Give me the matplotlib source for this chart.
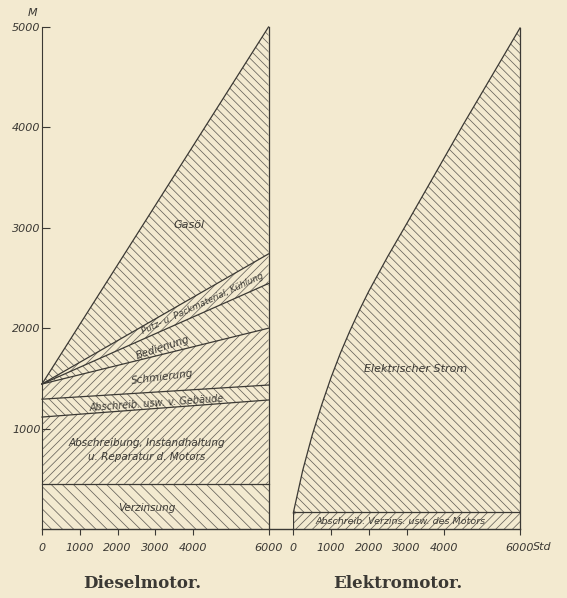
import matplotlib
matplotlib.use("Agg")
import matplotlib.pyplot as plt
from matplotlib.lines import Line2D

# Betriebskosten je Jahr (M) ueber Betriebsstunden (Std)
hours = [0, 6000]

# Dieselmotor: Oberkante jeder Schicht bei 0 und 6000 Std
verzinsung_top = [450, 450]
motor_top = [1115, 1285]
gebaeude_top = [1293, 1434]
schmierung_top = [1444, 2000]
bedienung_top = [1444, 2445]
putz_top = [1444, 2740]
gasoel_top = [1444, 5000]

# Elektromotor
e_hours = [0, 250, 500, 750, 1000, 1250, 1500, 1750, 2000, 2500, 3000, 3500,
           4000, 4500, 5000, 5500, 6000]
e_motor_top = [165] * len(e_hours)
strom_top = [160, 585, 935, 1235, 1510, 1755, 1975, 2180, 2370, 2715, 3040,
             3370, 3700, 4030, 4350, 4670, 4990]

xticks = [0, 1000, 2000, 3000, 4000, 6000]
yticks = [1000, 2000, 3000, 4000, 5000]

bg = "#f3ead0"
ink = "#3b3934"
hatch_col = "#67635b"

plt.rcParams["hatch.linewidth"] = 0.55
plt.rcParams["font.family"] = ["DejaVu Sans"]

fig = plt.figure(figsize=(5.67, 5.98), dpi=100, facecolor=bg)
W, H = 567.0, 598.0
y0 = 1 - 529 / H
hgt = 502 / H
ax1 = fig.add_axes([42 / W, y0, 226.5 / W, hgt])
ax2 = fig.add_axes([293.3 / W, y0, 226.7 / W, hgt])

for ax in (ax1, ax2):
    ax.set_xlim(0, 6000)
    ax.set_ylim(0, 5000)
    ax.patch.set_alpha(0)
    for s in ("top", "right", "left"):
        ax.spines[s].set_visible(False)
    ax.spines["bottom"].set_color(ink)
    ax.spines["bottom"].set_linewidth(1.0)
    ax.set_xticks(xticks)
    ax.set_xticklabels([str(t) for t in xticks], fontstyle="italic", fontsize=8, color=ink)
    ax.tick_params(axis="x", direction="out", length=4, width=0.8, color=ink, pad=6)

# ---- Dieselmotor ----
ax1.spines["left"].set_visible(True)
ax1.spines["left"].set_color(ink)
ax1.spines["left"].set_bounds(0, 5000)
ax1.set_yticks(yticks)
ax1.set_yticklabels([str(t) for t in yticks], fontstyle="italic", fontsize=8, color=ink)
ax1.tick_params(axis="y", direction="in", length=6, width=0.8, color=ink, pad=1)

layers = [
    ([0, 0], verzinsung_top, "\\\\\\"),
    (verzinsung_top, motor_top, "////"),
    (motor_top, gebaeude_top, "\\\\\\\\"),
    (gebaeude_top, schmierung_top, "////"),
    (schmierung_top, bedienung_top, "\\\\\\\\"),
    (bedienung_top, putz_top, "////"),
    (putz_top, gasoel_top, "\\\\\\\\"),
]
for lo, hi, h in layers:
    ax1.fill_between(hours, lo, hi, facecolor="none", edgecolor=hatch_col,
                     linewidth=0, hatch=h)
for top in (verzinsung_top, motor_top, gebaeude_top, schmierung_top,
            bedienung_top, putz_top, gasoel_top):
    ax1.plot(hours, top, color=ink, lw=0.9, clip_on=False)
ax1.plot([hours[-1], hours[-1]], [0, gasoel_top[-1]], color=ink, lw=0.9, clip_on=False)

lab = dict(fontstyle="italic", color=ink, ha="center", va="center", rotation_mode="anchor")
ax1.text(3900, 3030, "Gasöl", fontsize=8, **lab)
ax1.text(4250, 2240, "Putz- u. Packmaterial, Kühlung", fontsize=6.3, rotation=25, **lab)
ax1.text(3200, 1810, "Bedienung", fontsize=7.5, rotation=18, **lab)
ax1.text(3200, 1510, "Schmierung", fontsize=7.5, rotation=7, **lab)
ax1.text(3050, 1250, "Abschreib. usw. v. Gebäude", fontsize=7, rotation=4, **lab)
ax1.text(2780, 860, "Abschreibung, Instandhaltung", fontsize=7.5, **lab)
ax1.text(2780, 715, "u. Reparatur d. Motors", fontsize=7.5, **lab)
ax1.text(2780, 210, "Verzinsung", fontsize=7.5, **lab)

# ---- Elektromotor ----
ax2.set_yticks([])
ax2.fill_between(e_hours, 0, e_motor_top, facecolor="none", edgecolor=hatch_col,
                 linewidth=0, hatch="////")
ax2.fill_between(e_hours, e_motor_top, strom_top, facecolor="none", edgecolor=hatch_col,
                 linewidth=0, hatch="\\\\\\\\")
ax2.plot(e_hours, e_motor_top, color=ink, lw=0.9)
ax2.plot(e_hours, strom_top, color=ink, lw=0.9, clip_on=False)
ax2.plot([0, 0], [0, strom_top[0]], color=ink, lw=0.9)
ax2.plot([e_hours[-1], e_hours[-1]], [0, strom_top[-1]], color=ink, lw=0.9, clip_on=False)
ax2.text(3250, 1590, "Elektrischer Strom", fontsize=8, **lab)
ax2.text(2830, 75, "Abschreib. Verzins. usw. des Motors", fontsize=6.8, **lab)

# verbindende Grundlinie zwischen beiden Bildern
fig.add_artist(Line2D([268.5 / W, 293.3 / W], [y0, y0], color=ink, lw=1.0))

fig.text(33 / W, 1 - 13 / H, "M", fontstyle="italic", fontsize=8, color=ink,
         ha="center", va="center")
fig.text(533 / W, 1 - 547 / H, "Std", fontstyle="italic", fontsize=8, color=ink,
         ha="left", va="center")
fig.text(142 / W, 1 - 583 / H, "Dieselmotor.", family="DejaVu Serif",
         fontweight="bold", fontsize=12, color=ink, ha="center", va="center")
fig.text(398 / W, 1 - 583 / H, "Elektromotor.", family="DejaVu Serif",
         fontweight="bold", fontsize=12, color=ink, ha="center", va="center")

fig.savefig("out.png", dpi=100, facecolor=bg)
